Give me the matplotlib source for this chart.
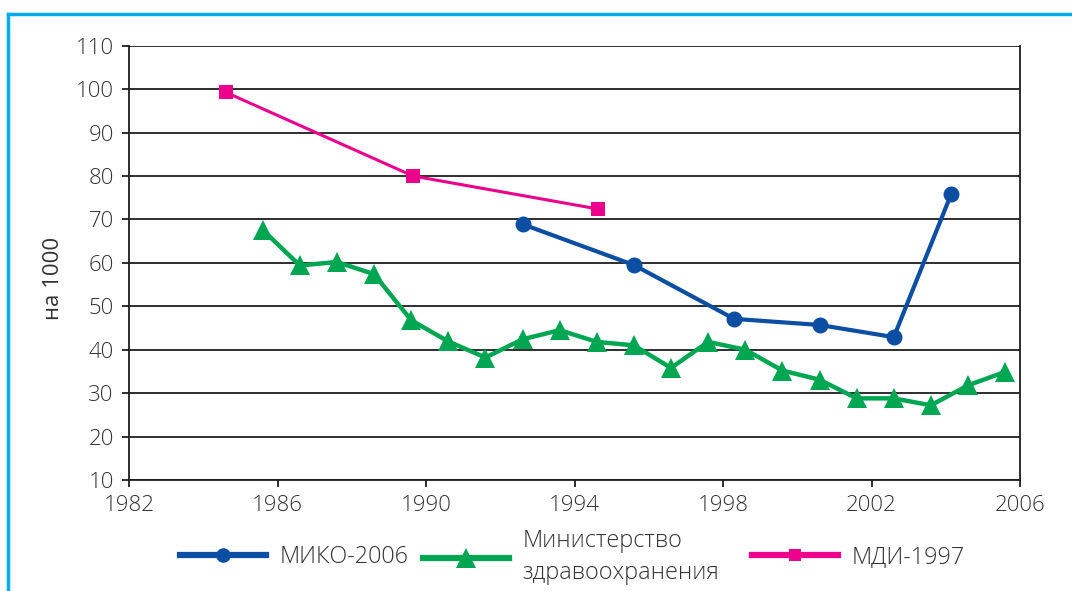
import matplotlib
matplotlib.use("Agg")
import matplotlib.pyplot as plt
from matplotlib.lines import Line2D

# ---- data ----
miko_years = [1992.6, 1995.6, 1998.3, 2000.6, 2002.6, 2004.15]
miko_vals = [68.9, 59.5, 47.1, 45.7, 42.9, 75.9]

mz_years = [1985.6, 1986.6, 1987.6, 1988.6, 1989.6, 1990.6, 1991.6, 1992.6,
            1993.6, 1994.6, 1995.6, 1996.6, 1997.6, 1998.6, 1999.6, 2000.6,
            2001.6, 2002.6, 2003.6, 2004.6, 2005.6]
mz_vals = [67.6, 59.4, 60.2, 57.4, 46.8, 41.9, 38.2, 42.4, 44.5, 41.8, 41.0,
           35.8, 41.8, 40.0, 35.2, 33.1, 28.8, 28.8, 27.2, 31.8, 34.9]

mdi_years = [1984.6, 1989.65, 1994.63]
mdi_vals = [99.3, 80.0, 72.4]

x_ticks = [1982, 1986, 1990, 1994, 1998, 2002, 2006]
y_ticks = [10, 20, 30, 40, 50, 60, 70, 80, 90, 100, 110]

labels = ["МИКО-2006", "Министерство\nздравоохранения", "МДИ-1997"]
y_label = "на 1000"

BLUE = "#0B4EA2"
GREEN = "#00A651"
PINK = "#EC008C"
TXT = "#333333"

plt.rcParams['font.family'] = ['Open Sans', 'DejaVu Sans']
plt.rcParams['font.weight'] = 'light'

W, H = 1072, 591
fig = plt.figure(figsize=(W / 100, H / 100), dpi=100)
ax = fig.add_axes([129 / W, 1 - 480 / H, (1020 - 129) / W, (480 - 45.7) / H])

ax.plot(mz_years, mz_vals, color=GREEN, lw=3.2, marker='^', ms=15,
        markeredgewidth=0, zorder=3)
ax.plot(miko_years, miko_vals, color=BLUE, lw=3.0, marker='o', ms=11.5,
        markeredgewidth=0, zorder=4)
ax.plot(mdi_years, mdi_vals, color=PINK, lw=2.2, marker='s', ms=9.5,
        markeredgewidth=0, zorder=4)

ax.set_xlim(1982, 2006)
ax.set_ylim(10, 110)
ax.set_xticks(x_ticks)
ax.set_yticks(y_ticks)
ax.set_xticklabels([str(t) for t in x_ticks])
ax.set_yticklabels([str(t) for t in y_ticks])
for g in y_ticks:
    ax.axhline(g, color="#1e1e1e", lw=1.3, zorder=1)

for s in ['left', 'bottom', 'right']:
    ax.spines[s].set_color("#1e1e1e")
    ax.spines[s].set_linewidth(1.3)
ax.spines['top'].set_visible(False)
ax.tick_params(axis='both', colors="#1e1e1e", labelcolor=TXT, labelsize=16,
               length=5, width=1.3)
ax.tick_params(axis='y', pad=6)
ax.tick_params(axis='x', pad=6)
ax.set_ylabel(y_label, fontsize=16, color=TXT)
ax.yaxis.set_label_coords(-0.073, 0.463)

# legend (three separate entries)
handles = [
    Line2D([], [], color=BLUE, lw=4.5, marker='o', ms=10.5, markeredgewidth=0),
    Line2D([], [], color=GREEN, lw=4.5, marker='^', ms=15, markeredgewidth=0),
    Line2D([], [], color=PINK, lw=4.5, marker='s', ms=9, markeredgewidth=0),
]
lefts = [180, 423, 752]
for h, lab, xl in zip(handles, labels, lefts):
    leg = fig.legend([h], [lab], loc='center left',
                     bbox_to_anchor=(xl / W, 1 - 557 / H), frameon=False,
                     fontsize=16.8, handlelength=3.7, handletextpad=0.55,
                     borderpad=0, borderaxespad=0, labelcolor=TXT)
    for t in leg.get_texts():
        t.set_linespacing(1.45)

# figure frame (cyan)
frame_c = "#00AEEF"
fig.add_artist(Line2D([8 / W, 1.0], [1 - 14 / H, 1 - 14 / H], color=frame_c,
                      lw=2.5, transform=fig.transFigure))
fig.add_artist(Line2D([8 / W, 8 / W], [1 - 14 / H, 0.0], color=frame_c,
                      lw=2.5, transform=fig.transFigure))

fig.savefig("out.png", dpi=100, facecolor='white')
